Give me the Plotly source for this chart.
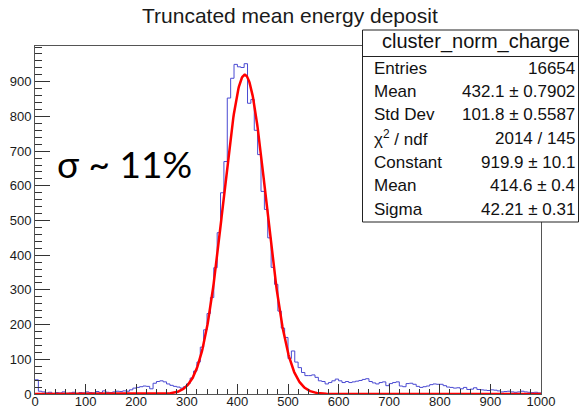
import numpy as np
import plotly.graph_objects as go

# Histogram: 150 equal bins on [0, 1000]
x_min, x_max = 0.0, 1000.0
counts = [
    41, 8, 6, 3, 5, 0, 4, 3, 6, 2,
    3, 5, 0, 4, 3, 6, 4, 3, 7, 4,
    9, 5, 4, 6, 8, 7, 9, 8, 12, 17,
    19, 21, 23, 22, 15, 31, 36, 38, 35, 29,
    25, 22, 20, 17, 21, 30, 46, 66, 92, 135,
    185, 232, 278, 364, 465, 580, 670, 853, 910, 950,
    943, 941, 952, 838, 849, 760, 690, 584, 532, 450,
    365, 316, 239, 190, 163, 102, 124, 92, 76, 62,
    53, 53, 55, 48, 38, 36, 29, 33, 38, 43,
    38, 33, 36, 33, 35, 37, 39, 42, 44, 36,
    32, 29, 33, 35, 24, 30, 33, 35, 23, 21,
    30, 31, 28, 22, 19, 21, 23, 27, 29, 28,
    28, 24, 20, 19, 17, 18, 15, 19, 13, 14,
    18, 13, 12, 11, 10, 12, 11, 9, 6, 7,
    8, 6, 5, 6, 8, 6, 5, 4, 5, 3,
]

# Gaussian fit parameters
fit_constant = 919.9
fit_mean = 414.6
fit_sigma = 42.21

title_text = "Truncated mean energy deposit"
stats_title = "cluster_norm_charge"
stats_labels = ["Entries", "Mean", "Std Dev", "χ<sup>2</sup> / ndf",
                "Constant", "Mean", "Sigma"]
stats_values = ["16654", "432.1 ± 0.7902", "101.8 ± 0.5587", "2014 / 145",
                "919.9 ± 10.1", "414.6 ± 0.4", "42.21 ± 0.31"]
resolution_text = "σ ~ 11%"

# ---- geometry (pixels) ----
W, H = 584, 409
ML, MR, MT, MB = 35, 43, 46, 15
PW, PH = W - ML - MR, H - MT - MB


def fx(px):
    return (px - ML) / PW


def fy(py):
    return (H - MB - py) / PH


n_bins = len(counts)
edges = np.linspace(x_min, x_max, n_bins + 1)
step_y = list(counts) + [counts[-1]]

xf = np.linspace(x_min, x_max, 1001)
yf = fit_constant * np.exp(-0.5 * ((xf - fit_mean) / fit_sigma) ** 2)

fig = go.Figure()
fig.add_trace(go.Scatter(
    x=edges, y=step_y, mode="lines", line_shape="hv",
    line=dict(color="#4a4ad2", width=1), hoverinfo="skip", showlegend=False))
fig.add_trace(go.Scatter(
    x=xf, y=yf, mode="lines",
    line=dict(color="#ff0000", width=2.5), hoverinfo="skip", showlegend=False))

font_main = "Liberation Sans, Arial, sans-serif"
axis_common = dict(
    showgrid=False, zeroline=False, showline=True, mirror=True,
    linecolor="#555555", linewidth=1, ticks="inside", tickcolor="#333333",
    tickwidth=1, automargin=False,
    tickfont=dict(family=font_main, size=13, color="#1a1a1a"),
)
fig.update_xaxes(range=[x_min, x_max], tick0=0, dtick=100, ticklen=10,
                 ticklabelstandoff=-5,
                 minor=dict(ticks="inside", dtick=20, ticklen=5,
                            tickcolor="#333333"),
                 **axis_common)
fig.update_yaxes(range=[0, 1003], tickmode="array",
                 tickvals=list(range(0, 1000, 100)), ticklen=15,
                 minor=dict(ticks="inside", dtick=20, ticklen=7,
                            tickcolor="#333333"),
                 **axis_common)

# statistics box
bx0, bx1, by0, by1 = 362.5, 578.5, 30, 222
shapes = [
    dict(type="rect", xref="paper", yref="paper", layer="above",
         x0=fx(bx0), x1=fx(bx1), y0=fy(by1), y1=fy(by0),
         line=dict(color="#222222", width=1), fillcolor="white"),
    dict(type="line", xref="paper", yref="paper", layer="above",
         x0=fx(bx0), x1=fx(bx1), y0=fy(56.5), y1=fy(56.5),
         line=dict(color="#222222", width=1)),
]

annotations = [
    dict(text=title_text, xref="paper", yref="paper", x=fx(290), y=fy(16),
         showarrow=False, xanchor="center", yanchor="middle",
         font=dict(family=font_main, size=21, color="#1a1a1a")),
    dict(text=stats_title, xref="paper", yref="paper", x=fx(476), y=fy(42),
         showarrow=False, xanchor="center", yanchor="middle",
         font=dict(family=font_main, size=20, color="#111111")),
    dict(text=resolution_text, xref="paper", yref="paper", x=fx(55), y=fy(163),
         showarrow=False, xanchor="left", yanchor="middle",
         font=dict(family="Lato, Open Sans, sans-serif", size=37, color="black")),
]
row_y = [68.5, 91.7, 114.8, 138.2, 162.0, 186.0, 209.5]
for lab, val, ry in zip(stats_labels, stats_values, row_y):
    annotations.append(dict(text=lab, xref="paper", yref="paper", x=fx(372),
                            y=fy(ry), showarrow=False, xanchor="left",
                            yanchor="middle",
                            font=dict(family=font_main, size=17, color="#111111")))
    annotations.append(dict(text=val, xref="paper", yref="paper", x=fx(577),
                            y=fy(ry), showarrow=False, xanchor="right",
                            yanchor="middle",
                            font=dict(family=font_main, size=17, color="#111111")))

fig.update_layout(
    width=W, height=H, autosize=False,
    margin=dict(l=ML, r=MR, t=MT, b=MB, pad=0, autoexpand=False),
    paper_bgcolor="white", plot_bgcolor="white",
    shapes=shapes, annotations=annotations, showlegend=False,
)

fig.write_html("out.html", config={"displayModeBar": False})
